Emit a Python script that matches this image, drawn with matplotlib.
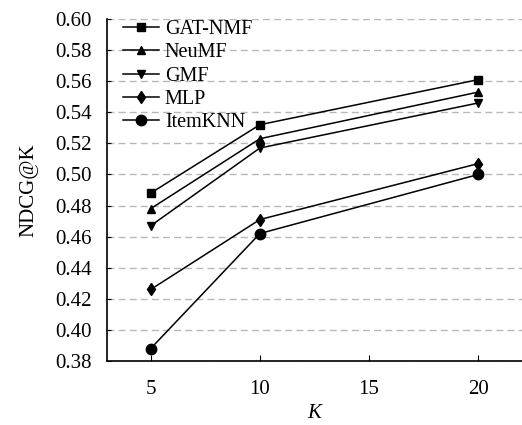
import numpy as np
import matplotlib
matplotlib.use("Agg")
import matplotlib.pyplot as plt

# data
k_values = [5, 10, 20]
gat_nmf = [0.488, 0.532, 0.561]
neumf = [0.478, 0.523, 0.553]
gmf = [0.467, 0.517, 0.546]
mlp = [0.426, 0.471, 0.507]
itemknn = [0.388, 0.462, 0.500]

series = [("GAT-NMF", gat_nmf, "s", 6),
          ("NeuMF", neumf, "^", 6),
          ("GMF", gmf, "v", 6),
          ("MLP", mlp, "d", 6.5),
          ("ItemKNN", itemknn, "o", 7.5)]

plt.rcParams['font.family'] = ['Liberation Serif']

fig = plt.figure(figsize=(5.22, 4.25), dpi=100)
ax = fig.add_axes([107/522, 1 - 361/425, (522 - 107)/522, (361 - 19)/425])

for name, vals, mk, ms in series:
    ax.plot(k_values, vals, color="black", linewidth=1.1, marker=mk, markersize=ms, label=name)

ax.set_xlim(3, 22)
ax.set_ylim(0.38, 0.60)
ax.set_xticks([5, 10, 15, 20])
ax.set_yticks(np.arange(0.38, 0.601, 0.02))
ax.yaxis.set_major_formatter(plt.FuncFormatter(lambda v, _: f"{v:.2f}"))
ax.tick_params(axis="x", direction="in", length=4, labelsize=15, pad=14)
ax.tick_params(axis="y", direction="in", length=3, labelsize=15, pad=11)
ax.grid(axis="y", linestyle=(0, (5, 3)), color="#b8b8b8", linewidth=1)
ax.set_axisbelow(True)
for s in ["top", "right"]:
    ax.spines[s].set_visible(False)
ax.spines["left"].set_linewidth(1.2)
ax.spines["bottom"].set_linewidth(1.2)

ax.set_ylabel("NDCG@K", fontsize=15, labelpad=12)
ax.set_xlabel("K", fontsize=15, style="italic", labelpad=3)

leg = ax.legend(loc="upper left", frameon=False, fontsize=14.5, handlelength=1.8,
                handletextpad=0.3, labelspacing=0.2, borderaxespad=0.0,
                bbox_to_anchor=(0.018, 1.02))

fig.savefig("out.png", dpi=100)
